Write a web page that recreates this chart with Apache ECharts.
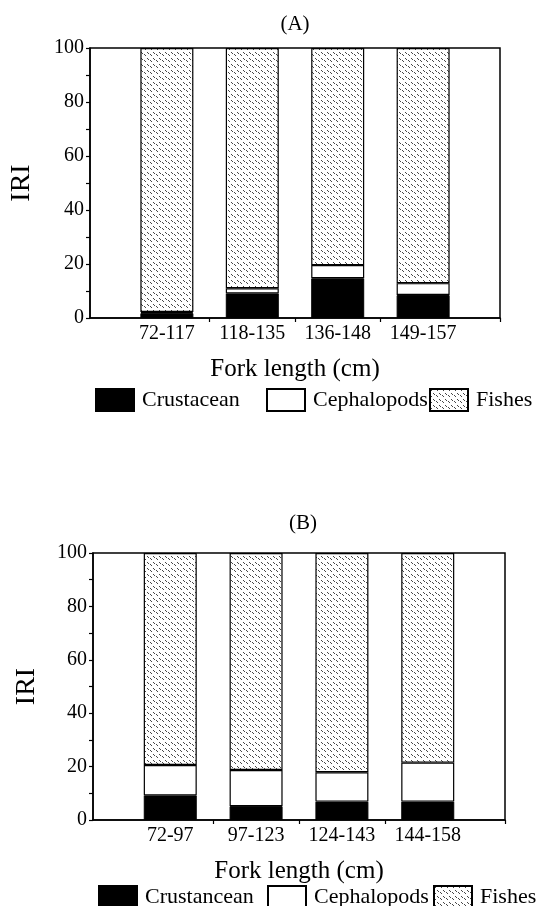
<!DOCTYPE html>
<html>
<head>
<meta charset="utf-8">
<script src="https://cdn.jsdelivr.net/npm/echarts@6/dist/echarts.min.js"></script>
<style>
  html, body { margin: 0; padding: 0; background: #fff; }
  #main { width: 541px; height: 906px; }
</style>
</head>
<body>
<div id="main"></div>
<script>
// 数据 (A)
var groupsA = ['72-117', '118-135', '136-148', '149-157'];
var crustA = [1.8, 9.1, 14.7, 8.5];
var cephA = [0.4, 1.9, 4.9, 4.4];
var fishA = [97.8, 89.0, 80.4, 87.1];
// 数据 (B)
var groupsB = ['72-97', '97-123', '124-143', '144-158'];
var crustB = [9.2, 5.2, 6.9, 6.9];
var cephB = [11.4, 13.5, 11.0, 14.6];
var fishB = [79.4, 81.3, 82.1, 78.5];
var yTicks = [0, 20, 40, 60, 80, 100];

var FONT = "'Liberation Serif', 'Times New Roman', serif";

// 鱼类的点状填充
function makePattern() {
  var c = document.createElement('canvas');
  c.width = 6; c.height = 6;
  var ctx = c.getContext('2d');
  ctx.fillStyle = '#fff';
  ctx.fillRect(0, 0, 6, 6);
  ctx.strokeStyle = '#333';
  ctx.lineWidth = 0.9;
  ctx.beginPath();
  ctx.moveTo(0, 0); ctx.lineTo(2, 2);
  ctx.moveTo(3, 4); ctx.lineTo(5, 6);
  ctx.stroke();
  return c;
}
var fishFill = { image: makePattern(), repeat: 'repeat' };

// [值, 位置]，值放在第一维，堆叠才会叠在 y 上
function pairs(vals) {
  var res = [];
  for (var i = 0; i < vals.length; i++) res.push([vals[i], i + 1]);
  return res;
}

function xAxisFor(idx, names) {
  return {
    type: 'value', gridIndex: idx, min: 0.1, max: 4.9,
    axisLine: { show: true, lineStyle: { color: '#000', width: 1.5 } },
    axisTick: { show: true, customValues: [1.5, 2.5, 3.5, 4.9], length: 4, lineStyle: { color: '#000', width: 1.2 } },
    splitLine: { show: false },
    axisLabel: {
      customValues: [1, 2, 3, 4], margin: 6,
      color: '#000', fontFamily: FONT, fontSize: 20,
      formatter: function (v) { return names[Math.round(v) - 1]; }
    },
    name: 'Fork length (cm)', nameLocation: 'middle', nameGap: 39,
    nameTextStyle: { color: '#000', fontFamily: FONT, fontSize: 25 }
  };
}

function yAxisFor(idx, gap) {
  return {
    type: 'value', gridIndex: idx, min: yTicks[0], max: yTicks[yTicks.length - 1], interval: 20,
    axisLine: { show: true, lineStyle: { color: '#000', width: 1.5 } },
    axisTick: { show: true, length: 4, lineStyle: { color: '#000', width: 1.2 } },
    minorTick: { show: true, splitNumber: 2, length: 4, lineStyle: { color: '#000', width: 1.2 } },
    splitLine: { show: false },
    axisLabel: { margin: 6, color: '#000', fontFamily: FONT, fontSize: 20 },
    name: 'IRI', nameLocation: 'middle', nameRotate: 90, nameGap: gap,
    nameTextStyle: { color: '#000', fontFamily: FONT, fontSize: 28 }
  };
}

function barsFor(idx, names, crust, ceph, fish) {
  var common = { type: 'bar', stack: 's' + idx, xAxisIndex: idx, yAxisIndex: idx, barWidth: 53,
    encode: { x: 1, y: 0 } };
  return [
    Object.assign({ name: names[0], data: pairs(crust),
      itemStyle: { color: '#000', borderColor: '#000', borderWidth: 1 } }, common),
    Object.assign({ name: names[1], data: pairs(ceph),
      itemStyle: { color: '#fff', borderColor: '#000', borderWidth: 1.2 } }, common),
    Object.assign({ name: names[2], data: pairs(fish),
      itemStyle: { color: fishFill, borderColor: '#000', borderWidth: 1.2 } }, common)
  ];
}

function legendItem(name, left, top) {
  return {
    data: [name], left: left, top: top, itemWidth: 38, itemHeight: 22,
    icon: 'rect', selectedMode: false,
    textStyle: { color: '#000', fontFamily: FONT, fontSize: 22, padding: [0, 0, 0, 3] }
  };
}

var chart = echarts.init(document.getElementById('main'), null, { renderer: 'canvas' });
chart.setOption({
  animation: false,
  backgroundColor: '#fff',
  title: [
    { text: '(A)', left: 290, top: 9, textAlign: 'center',
      textStyle: { color: '#000', fontFamily: FONT, fontSize: 21, fontWeight: 'normal' } },
    { text: '(B)', left: 298, top: 508, textAlign: 'center',
      textStyle: { color: '#000', fontFamily: FONT, fontSize: 21, fontWeight: 'normal' } }
  ],
  grid: [
    { left: 88, top: 48, right: 41, height: 270, show: true, borderColor: '#000', borderWidth: 1.5, backgroundColor: 'transparent' },
    { left: 93, top: 553, right: 36, height: 267, show: true, borderColor: '#000', borderWidth: 1.5, backgroundColor: 'transparent' }
  ],
  legend: [
    legendItem('Crustacean', 90, 383),
    legendItem('Cephalopods', 261, 383),
    legendItem('Fishes', 424, 383),
    legendItem('Crustancean', 93, 880),
    legendItem('Cephalopods', 262, 880),
    legendItem('Fishes', 428, 880)
  ],
  xAxis: [xAxisFor(0, groupsA), xAxisFor(1, groupsB)],
  yAxis: [yAxisFor(0, 54), yAxisFor(1, 52)],
  series: barsFor(0, ['Crustacean', 'Cephalopods', 'Fishes'], crustA, cephA, fishA)
    .concat(barsFor(1, ['Crustancean', 'Cephalopods', 'Fishes'], crustB, cephB, fishB))
});
</script>
</body>
</html>
